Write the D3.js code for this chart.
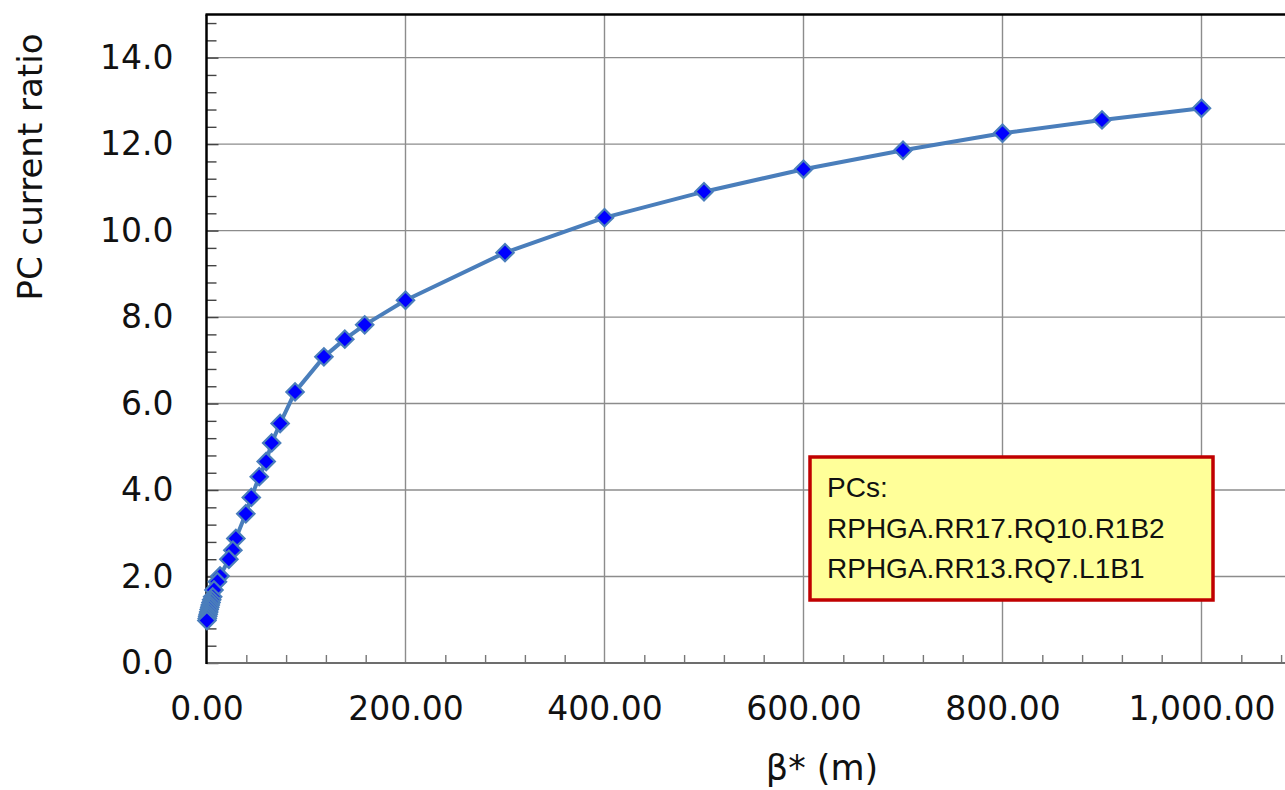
<!DOCTYPE html>
<html>
<head>
<meta charset="utf-8">
<script src="https://cdn.jsdelivr.net/npm/d3@7"></script>
<style>
  body { margin: 0; background: #fff; }
  svg { display: block; }
</style>
</head>
<body>
<script>
// beta* (m) and PC current ratio
const betaStar = [1000, 900, 800, 700, 600, 500, 400, 300, 200, 159, 139, 118, 89, 74, 65.5, 60, 53, 45, 39.5, 29.5, 26.5, 22.5, 13.6, 11, 7.5, 6.2, 5.2, 4.5, 3.8, 3.3, 2.7, 2.2, 1.7, 1.2, 0.8, 0.4]
const pcRatio  = [12.83, 12.56, 12.25, 11.86, 11.42, 10.90, 10.30, 9.49, 8.39, 7.82, 7.49, 7.08, 6.27, 5.54, 5.09, 4.66, 4.31, 3.83, 3.45, 2.88, 2.61, 2.40, 2.01, 1.88, 1.69, 1.53, 1.46, 1.40, 1.34, 1.29, 1.24, 1.18, 1.13, 1.08, 1.03, 0.98]

const xTicks = [0, 200, 400, 600, 800, 1000]
const yTicks = [0, 2, 4, 6, 8, 10, 12, 14]
const legendLines = ["PCs:", "RPHGA.RR17.RQ10.R1B2", "RPHGA.RR13.RQ7.L1B1"]

const width = 1285, height = 790
const plotLeft = 206.5, plotTop = 14.4, plotBottom = 663

const points = betaStar.map((b, i) => ({x: b, y: pcRatio[i]}))

const x = d3.scaleLinear().domain([0, 1100]).range([plotLeft, plotLeft + 1094.5])
const y = d3.scaleLinear().domain([0, 15]).range([plotBottom, plotTop])

const svg = d3.select("body").append("svg")
    .attr("width", width)
    .attr("height", height)

// grid
svg.append("g")
    .selectAll("line")
    .data(xTicks.filter(d => d > 0))
    .join("line")
    .attr("x1", d => x(d)).attr("x2", d => x(d))
    .attr("y1", plotTop).attr("y2", plotBottom)
    .attr("stroke", "#8c8c8c").attr("stroke-width", 1.4)

svg.append("g")
    .selectAll("line")
    .data(yTicks.filter(d => d > 0))
    .join("line")
    .attr("x1", plotLeft).attr("x2", width)
    .attr("y1", d => y(d)).attr("y2", d => y(d))
    .attr("stroke", "#8c8c8c").attr("stroke-width", 1.4)

// minor ticks
const yMinor = d3.range(0, 15.01, 0.4).filter(v => Math.abs(v / 2 - Math.round(v / 2)) > 0.01)
svg.append("g")
    .attr("transform", `translate(${plotLeft},0)`)
    .call(d3.axisLeft(y).tickValues(yMinor).tickSize(-10).tickFormat(""))
    .call(g => g.select(".domain").remove())
    .call(g => g.selectAll("line").attr("stroke", "#444").attr("stroke-width", 1.4))

svg.append("g")
    .attr("transform", `translate(${plotLeft},0)`)
    .call(d3.axisLeft(y).tickValues(yTicks).tickSize(-12).tickFormat(""))
    .call(g => g.select(".domain").remove())
    .call(g => g.selectAll("line").attr("stroke", "#444").attr("stroke-width", 1.4))

const xMinor = d3.range(0, 1101, 40).filter(v => v % 200 !== 0)
svg.append("g")
    .attr("transform", `translate(0,${plotBottom})`)
    .call(d3.axisBottom(x).tickValues(xMinor).tickSize(-8).tickFormat(""))
    .call(g => g.select(".domain").remove())
    .call(g => g.selectAll("line").attr("stroke", "#777").attr("stroke-width", 1.4))

// tick labels
svg.append("g")
    .attr("transform", `translate(${plotLeft},0)`)
    .call(d3.axisLeft(y).tickValues(yTicks).tickSize(0).tickPadding(33).tickFormat(d3.format(".1f")))
    .call(g => g.select(".domain").remove())
    .call(g => g.selectAll("text")
        .attr("font-family", "DejaVu Sans")
        .attr("font-size", 33)
        .attr("fill", "#111"))

svg.append("g")
    .attr("transform", `translate(0,${plotBottom})`)
    .call(d3.axisBottom(x).tickValues(xTicks).tickSize(0).tickPadding(34).tickFormat(d3.format(",.2f")))
    .call(g => g.select(".domain").remove())
    .call(g => g.selectAll("text")
        .attr("font-family", "DejaVu Sans")
        .attr("font-size", 33)
        .attr("fill", "#111"))

// frame lines
svg.append("line")
    .attr("x1", plotLeft).attr("x2", width)
    .attr("y1", plotBottom).attr("y2", plotBottom)
    .attr("stroke", "#6d6d6d").attr("stroke-width", 2)
svg.append("line")
    .attr("x1", plotLeft - 1).attr("x2", width)
    .attr("y1", plotTop).attr("y2", plotTop)
    .attr("stroke", "#000").attr("stroke-width", 2.5)
svg.append("line")
    .attr("x1", plotLeft).attr("x2", plotLeft)
    .attr("y1", plotTop).attr("y2", plotBottom + 1)
    .attr("stroke", "#000").attr("stroke-width", 2.5)

// axis titles
svg.append("text")
    .attr("transform", "translate(42,167) rotate(-90)")
    .attr("text-anchor", "middle")
    .attr("font-family", "DejaVu Sans")
    .attr("font-size", 34)
    .attr("fill", "#111")
    .text("PC current ratio")

svg.append("text")
    .attr("x", 822).attr("y", 780)
    .attr("text-anchor", "middle")
    .attr("font-family", "DejaVu Sans")
    .attr("font-size", 35)
    .attr("fill", "#111")
    .text("β* (m)")

// series
const line = d3.line().x(d => x(d.x)).y(d => y(d.y))
svg.append("path")
    .datum(points)
    .attr("d", line)
    .attr("fill", "none")
    .attr("stroke", "#4a7ebb")
    .attr("stroke-width", 4)
    .attr("stroke-linejoin", "round")

const diamond = d3.symbol().type(d3.symbolSquare).size(150)
svg.append("g")
    .selectAll("path")
    .data(points)
    .join("path")
    .attr("transform", d => `translate(${x(d.x)},${y(d.y)}) rotate(45)`)
    .attr("d", diamond)
    .attr("fill", "#0000ff")
    .attr("stroke", "#4a7ebb")
    .attr("stroke-width", 2.2)

// note box
const note = svg.append("g")
note.append("rect")
    .attr("x", 810).attr("y", 457)
    .attr("width", 403).attr("height", 143)
    .attr("fill", "#ffff99")
    .attr("stroke", "#c00000")
    .attr("stroke-width", 3.5)
note.selectAll("text")
    .data(legendLines)
    .join("text")
    .attr("x", 827)
    .attr("y", (d, i) => 497 + i * 40.5)
    .attr("font-family", "Liberation Sans")
    .attr("font-size", 28)
    .attr("fill", "#111")
    .text(d => d)
</script>
</body>
</html>
